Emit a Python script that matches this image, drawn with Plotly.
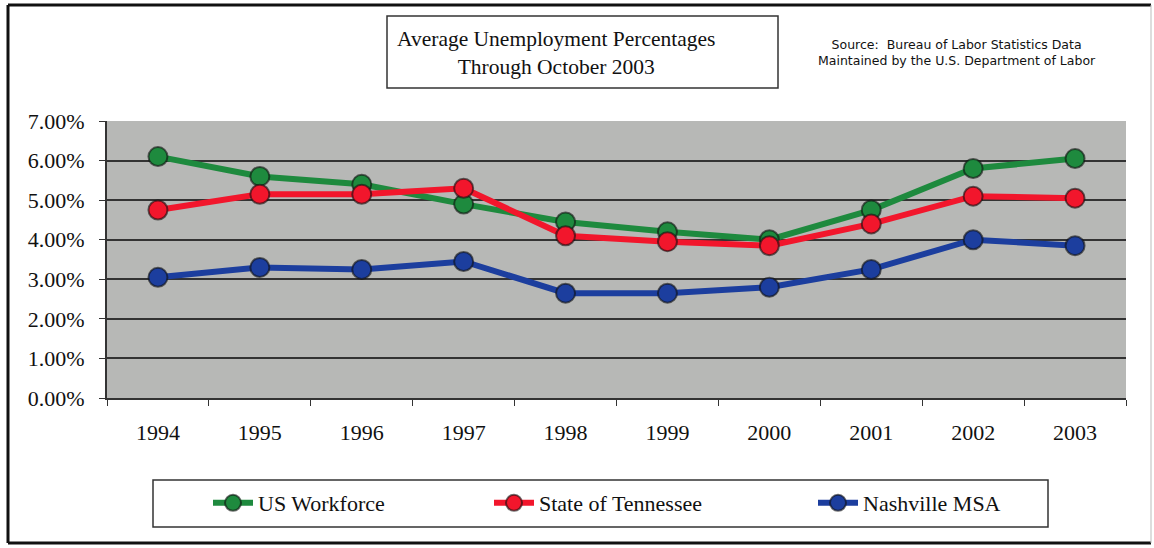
import plotly.graph_objects as go

years = ["1994", "1995", "1996", "1997", "1998", "1999", "2000", "2001", "2002", "2003"]
us_workforce = [6.1, 5.6, 5.4, 4.9, 4.45, 4.2, 4.0, 4.75, 5.8, 6.05]
tennessee = [4.75, 5.15, 5.15, 5.3, 4.1, 3.95, 3.85, 4.4, 5.1, 5.05]
nashville = [3.05, 3.3, 3.25, 3.45, 2.65, 2.65, 2.8, 3.25, 4.0, 3.85]
y_ticks = [0, 1, 2, 3, 4, 5, 6, 7]
y_tick_labels = ["0.00%", "1.00%", "2.00%", "3.00%", "4.00%", "5.00%", "6.00%", "7.00%"]

W, H = 1154, 548
L, R, T, B = 107, 28, 121, 150
pw, ph = W - L - R, H - T - B


def px(x):
    return (x - L) / pw


def py(y):
    return (H - B - y) / ph


serif = "Liberation Serif"

# name, values, colour, legend id, legend left edge (px)
series = [
    ("US Workforce", us_workforce, "#1e8a3e", "legend", 208),
    ("State of Tennessee", tennessee, "#f2162c", "legend2", 489),
    ("Nashville MSA", nashville, "#1c3e9e", "legend3", 813),
]

fig = go.Figure()
legend_layouts = {}
for name, values, color, leg, lx in series:
    fig.add_trace(go.Scatter(
        x=years, y=values, mode="lines+markers", legend=leg, name=name,
        line=dict(color=color, width=6),
        marker=dict(size=19, color=color, line=dict(color="rgba(15,15,15,0.6)", width=2)),
    ))
    legend_layouts[leg] = dict(
        orientation="h", x=px(lx), y=py(503), xanchor="left", yanchor="middle",
        font=dict(family=serif, size=22, color="#111"),
        bgcolor="rgba(0,0,0,0)", itemwidth=40,
    )

shapes = [
    # outer frame
    dict(type="line", xref="paper", yref="paper", x0=px(8), x1=px(1151), y0=py(5), y1=py(5),
         line=dict(color="#111", width=3)),
    dict(type="line", xref="paper", yref="paper", x0=px(8), x1=px(1151), y0=py(543), y1=py(543),
         line=dict(color="#111", width=3)),
    dict(type="line", xref="paper", yref="paper", x0=px(8), x1=px(8), y0=py(5), y1=py(543),
         line=dict(color="#111", width=3)),
    dict(type="line", xref="paper", yref="paper", x0=px(1151), x1=px(1151), y0=py(5), y1=py(543),
         line=dict(color="#bbb", width=1)),
    # title box
    dict(type="rect", xref="paper", yref="paper", x0=px(387), x1=px(778), y0=py(88), y1=py(16),
         line=dict(color="#333", width=1.5), fillcolor="white"),
    # legend box
    dict(type="rect", xref="paper", yref="paper", x0=px(153), x1=px(1048), y0=py(527), y1=py(480),
         line=dict(color="#333", width=1.5)),
]

annotations = [
    dict(xref="paper", yref="paper", x=px(556), y=py(53), xanchor="center", yanchor="middle",
         text="Average Unemployment Percentages<br>Through October 2003", showarrow=False,
         font=dict(family=serif, size=21.5, color="#111"), align="center"),
    dict(xref="paper", yref="paper", x=px(957), y=py(52), xanchor="center", yanchor="middle",
         text="Source:  Bureau of Labor Statistics Data<br>Maintained by the U.S. Department of Labor",
         showarrow=False, font=dict(family="DejaVu Sans", size=12.5, color="#111"),
         align="center"),
]

fig.update_layout(
    width=W, height=H,
    margin=dict(l=L, r=R, t=T, b=B),
    paper_bgcolor="white",
    plot_bgcolor="#b7b8b6",
    showlegend=True,
    shapes=shapes,
    annotations=annotations,
    font=dict(family=serif, size=21, color="#111"),
)
fig.update_layout(**legend_layouts)

fig.update_xaxes(
    type="category", tickson="boundaries", ticks="outside", ticklen=6, tickcolor="#333",
    showline=True, linecolor="#333", linewidth=2, showgrid=False,
    tickfont=dict(family=serif, size=22, color="#111"), range=[-0.5, 9.5],
    ticklabelstandoff=14,
)
fig.update_yaxes(
    range=[0, 7], tickvals=y_ticks, ticktext=y_tick_labels, ticks="outside", ticklen=6,
    tickcolor="#333", showline=True, linecolor="#333", linewidth=2,
    showgrid=True, gridcolor="#333333", gridwidth=1.5, zeroline=False,
    tickfont=dict(family=serif, size=22, color="#111"), ticklabelstandoff=10,
)

fig.write_html("out.html")
